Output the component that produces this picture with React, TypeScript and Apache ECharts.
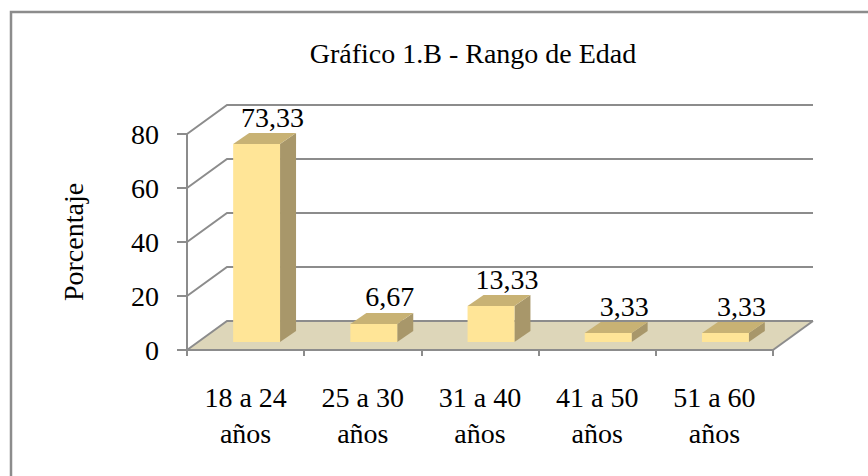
import React, { useEffect, useRef } from "react";
import * as echarts from "echarts";

const categories = ["18 a 24\naños", "25 a 30\naños", "31 a 40\naños", "41 a 50\naños", "51 a 60\naños"];
const values = [73.33, 6.67, 13.33, 3.33, 3.33];
const yTicks = [0, 20, 40, 60, 80];
const titleText = "Gráfico 1.B - Rango de Edad";
const yAxisName = "Porcentaje";

const FONT = "Liberation Serif";
const GRID_COLOR = "#8c8c8c";
const WALL_DX = 40;
const WALL_DY = -29;
const BAR_OFF_X = 11;
const BAR_OFF_Y = -8;
const BAR_DX = 16;
const BAR_DY = -11;

export default function App() {
  const ref = useRef<HTMLDivElement>(null);
  useEffect(() => {
    document.body.style.margin = "0";
    if (!ref.current) return;
    const chart = echarts.init(ref.current, undefined, { renderer: "svg" });
    const option: any = {
      animation: false,
      backgroundColor: "#ffffff",
      textStyle: { fontFamily: FONT },
      title: {
        text: titleText,
        left: 468,
        top: 34,
        textAlign: "center",
        textStyle: { fontFamily: FONT, fontSize: 28, fontWeight: "normal", color: "#000" },
      },
      graphic: [
        {
          type: "rect",
          shape: { x: 11, y: 12, width: 1000, height: 1000 },
          style: { fill: "none", stroke: "#8c8c8c", lineWidth: 2.5 },
          silent: true,
        },
      ],
      grid: { left: 187, right: 95, top: 134, bottom: 126 },
      xAxis: {
        type: "category",
        data: categories,
        axisLine: { show: true, lineStyle: { color: GRID_COLOR, width: 2 } },
        axisTick: { show: true, length: 6, lineStyle: { color: GRID_COLOR, width: 2 } },
        axisLabel: { fontFamily: FONT, fontSize: 28, color: "#000", lineHeight: 36, margin: 29, interval: 0 },
        splitLine: { show: false },
        z: 5,
      },
      yAxis: {
        type: "value",
        min: 0,
        max: 80,
        interval: 20,
        name: yAxisName,
        nameLocation: "middle",
        nameRotate: 90,
        nameGap: 100,
        nameTextStyle: { fontFamily: FONT, fontSize: 28, color: "#000" },
        axisLine: { show: true, lineStyle: { color: GRID_COLOR, width: 2 } },
        axisTick: { show: true, length: 10, lineStyle: { color: GRID_COLOR, width: 2 } },
        axisLabel: { fontFamily: FONT, fontSize: 28, color: "#000", margin: 28 },
        splitLine: { show: false },
      },
      series: [
        {
          type: "custom",
          clip: false,
          silent: true,
          z: 1,
          data: [[0, 0]],
          renderItem: (params: any, api: any) => {
            const cs = params.coordSys;
            const L = cs.x;
            const R = cs.x + cs.width;
            const y0 = api.coord([0, 0])[1];
            const children: any[] = [];
            children.push({
              type: "polygon",
              shape: {
                points: [
                  [L, y0],
                  [L + WALL_DX, y0 + WALL_DY],
                  [R + WALL_DX, y0 + WALL_DY],
                  [R, y0],
                ],
              },
              style: { fill: "#ddd6b9", stroke: "none" },
            });
            yTicks.forEach((t) => {
              const y = api.coord([0, t])[1];
              children.push({
                type: "polyline",
                shape: {
                  points: [
                    [L, y],
                    [L + WALL_DX, y + WALL_DY],
                    [R + WALL_DX, y + WALL_DY],
                  ],
                },
                style: { fill: "none", stroke: GRID_COLOR, lineWidth: 2 },
              });
            });
            children.push({
              type: "line",
              shape: { x1: R, y1: y0, x2: R + WALL_DX, y2: y0 + WALL_DY },
              style: { stroke: GRID_COLOR, lineWidth: 2 },
            });
            return { type: "group", children };
          },
        },
        {
          type: "custom",
          clip: false,
          z: 3,
          data: values.map((v, i) => [i, v]),
          renderItem: (params: any, api: any) => {
            const i = api.value(0);
            const v = api.value(1);
            const c = api.coord([i, v]);
            const b = api.coord([i, 0]);
            const band = api.size([1, 0])[0];
            const w = band * 0.4;
            const x0 = c[0] - w / 2 + BAR_OFF_X;
            const yTop = c[1] + BAR_OFF_Y;
            const yBot = b[1] + BAR_OFF_Y;
            const label = v.toFixed(2).replace(".", ",");
            return {
              type: "group",
              children: [
                {
                  type: "polygon",
                  shape: {
                    points: [
                      [x0 + w, yTop],
                      [x0 + w + BAR_DX, yTop + BAR_DY],
                      [x0 + w + BAR_DX, yBot + BAR_DY],
                      [x0 + w, yBot],
                    ],
                  },
                  style: { fill: "#a8976a" },
                },
                {
                  type: "polygon",
                  shape: {
                    points: [
                      [x0, yTop],
                      [x0 + BAR_DX, yTop + BAR_DY],
                      [x0 + w + BAR_DX, yTop + BAR_DY],
                      [x0 + w, yTop],
                    ],
                  },
                  style: { fill: "#c8b274" },
                },
                {
                  type: "rect",
                  shape: { x: x0, y: yTop, width: w, height: yBot - yTop },
                  style: { fill: "#ffe597" },
                },
                {
                  type: "text",
                  x: x0 + w / 2 + 16,
                  y: yTop - 27,
                  style: {
                    text: label,
                    fontFamily: FONT,
                    fontSize: 28,
                    fill: "#000",
                    align: "center",
                    verticalAlign: "middle",
                  },
                },
              ],
            };
          },
        },
      ],
    };
    chart.setOption(option);
    return () => chart.dispose();
  }, []);
  return <div ref={ref} style={{ width: 868, height: 476 }} />;
}
